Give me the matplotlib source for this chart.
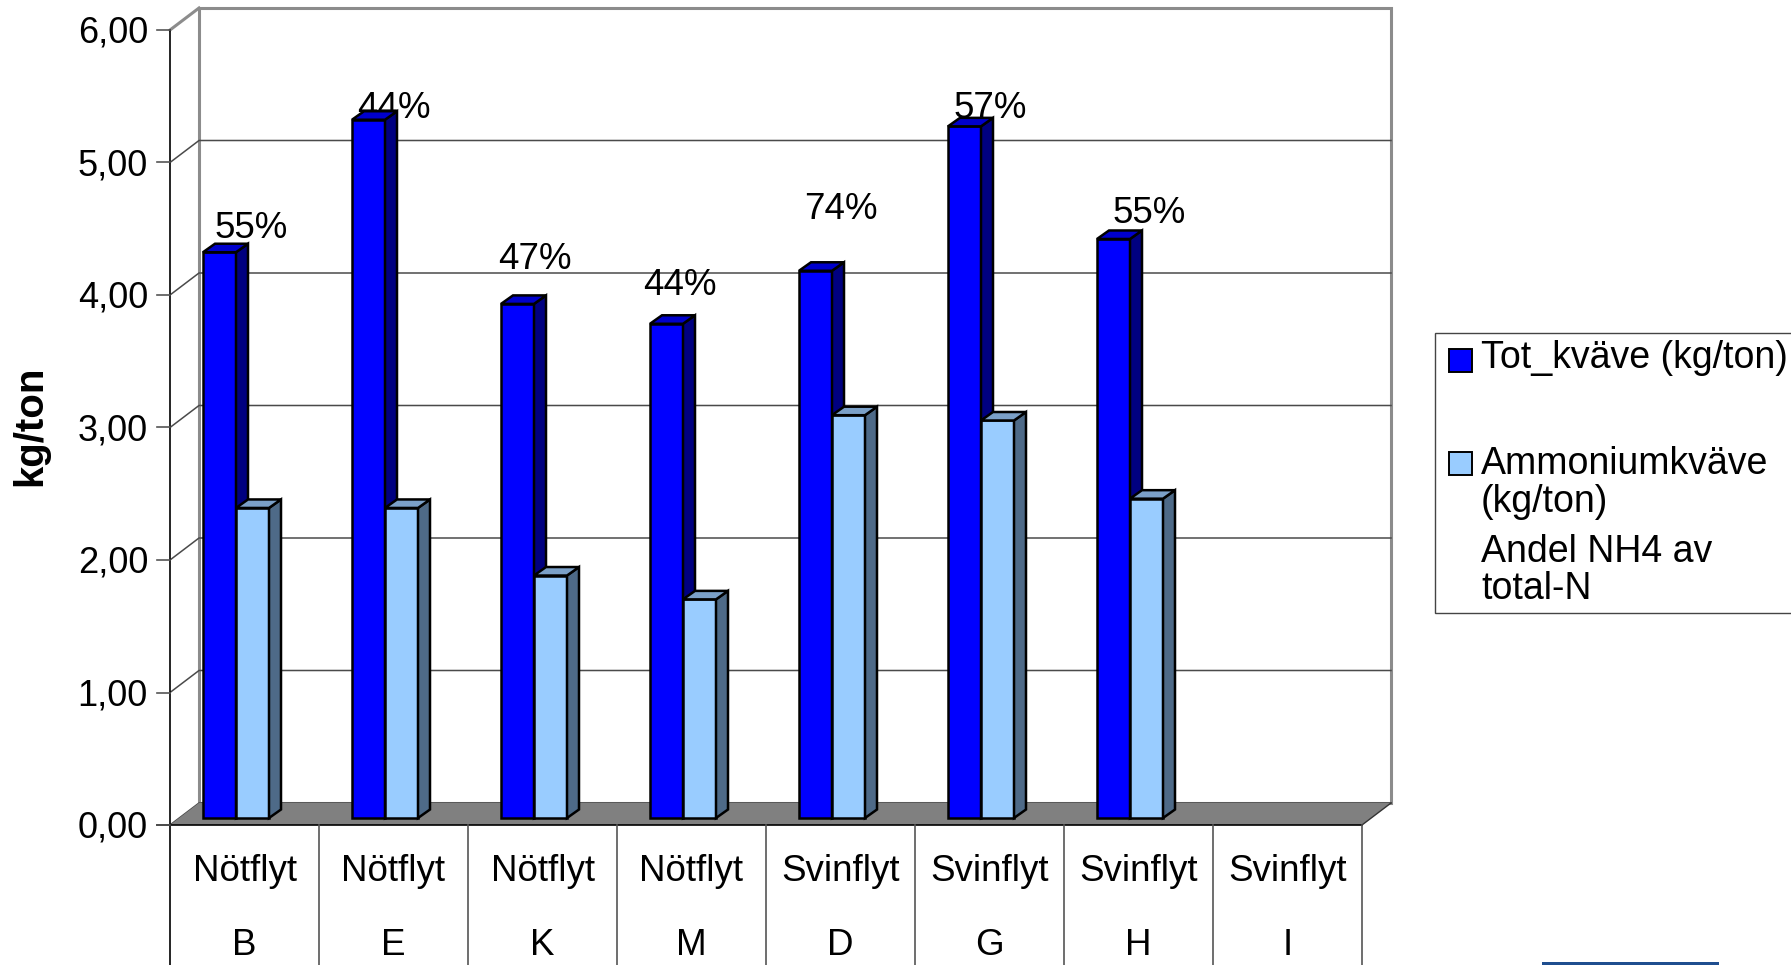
import numpy as np
import matplotlib
matplotlib.use("Agg")
import matplotlib.pyplot as plt
from matplotlib.patches import Polygon, Rectangle

plt.rcParams['font.family'] = ['Liberation Sans', 'DejaVu Sans']

# ---------------- data ----------------
cat_type = ["Nötflyt", "Nötflyt", "Nötflyt", "Nötflyt",
            "Svinflyt", "Svinflyt", "Svinflyt", "Svinflyt"]
cat_id = ["B", "E", "K", "M", "D", "G", "H", "I"]
tot_n = [4.27, 5.27, 3.88, 3.73, 4.13, 5.22, 4.37, np.nan]
nh4_n = [2.34, 2.34, 1.83, 1.65, 3.04, 3.00, 2.41, np.nan]
andel = ["55%", "44%", "47%", "44%", "74%", "57%", "55%", ""]
y_ticks = [0, 1, 2, 3, 4, 5, 6]
series_names = ["Tot_kväve (kg/ton)", "Ammoniumkväve\n(kg/ton)", "Andel NH4 av\ntotal-N"]

# ---------------- layout / style ----------------
W, H = 1791, 965
X0_PX, Y0_PX = 170, 825          # front origin in pixels
CAT_PX, UNIT_PX = 149.0, 132.5   # pixel size of one category / one unit
WALL_DX, WALL_DY = 29 / CAT_PX, 22 / UNIT_PX
BAR_DX, BAR_DY = 12 / CAT_PX, 8.5 / UNIT_PX
BAR_W = 33 / CAT_PX
BAR_OFF = 33 / CAT_PX
BAR_BASE = 7 / UNIT_PX
# label offsets relative to the top of the Tot bar (pixels: dx, dy of digit centre)
label_dx_px = [6.5, 0.5, -7.5, -11.5, 0.5, 0.5, 10.5, 0]
label_dy_px = [27, 15, 48, 42, 65, 21, 29, 0]

C_DARK = ("#0000FF", "#0000CC", "#000080")
C_LIGHT = ("#99CCFF", "#7BA0C8", "#4E6A88")
FS_TICK, FS_CAT, FS_LBL, FS_LEG = 26, 26.5, 26.5, 27

fig = plt.figure(figsize=(W / 100, H / 100), dpi=100)
ax = fig.add_axes([0, 0, 1, 1])
ax.axis('off')
ax.set_xlim(-X0_PX / CAT_PX, (W - X0_PX) / CAT_PX)
ax.set_ylim(-(H - Y0_PX) / UNIT_PX, Y0_PX / UNIT_PX)

n = len(cat_id)
ymax = y_ticks[-1]

# back wall
ax.add_patch(Rectangle((WALL_DX, WALL_DY), n, ymax, facecolor='white',
                       edgecolor='#8C8C8C', lw=2.2, zorder=1))
# left wall top edge
ax.plot([0, WALL_DX], [ymax, ymax + WALL_DY], color='#8C8C8C', lw=2.2, zorder=2)

# gridlines
for v in y_ticks[:-1]:
    ax.plot([0, WALL_DX, n + WALL_DX], [v, v + WALL_DY, v + WALL_DY],
            color='#4A4A4A', lw=1.1, zorder=2)

# floor
ax.add_patch(Polygon([(0, 0), (n, 0), (n + WALL_DX, WALL_DY), (WALL_DX, WALL_DY)],
                     closed=True, facecolor='#808080', edgecolor='none', zorder=3))
ax.plot([n, n + WALL_DX], [0, WALL_DY], color='#333333', lw=1.0, zorder=3)

# y axis line and ticks
ybot = -(H - Y0_PX) / UNIT_PX
ax.plot([0, 0], [ybot, ymax], color='black', lw=1.2, zorder=6)
ax.plot([-13 / CAT_PX, n], [0, 0], color='black', lw=1.2, zorder=6)
for v in y_ticks:
    ax.plot([-13 / CAT_PX, 0], [v, v], color='#555555', lw=1.2, zorder=6)
    ax.text(-22 / CAT_PX, v - 12.6 / UNIT_PX, f"{v:.2f}".replace('.', ','),
            ha='right', va='baseline', fontsize=FS_TICK, zorder=6)

# category separators and labels
for i in range(1, n + 1):
    ax.plot([i, i], [ybot, 0], color='#555555', lw=1.2, zorder=6)
for i in range(n):
    ax.text(i + 0.5, -56 / UNIT_PX, cat_type[i], ha='center', va='baseline',
            fontsize=FS_CAT, zorder=6)
    ax.text(i + 0.5, -130 / UNIT_PX, cat_id[i], ha='center', va='baseline',
            fontsize=FS_CAT, zorder=6)

# bars
x = np.arange(n)


def draw_bars(lefts, heights, colors, z):
    heights = np.asarray(heights, dtype=float)
    ok = ~np.isnan(heights)
    ax.bar(lefts[ok], heights[ok], width=BAR_W, bottom=BAR_BASE, align='edge',
           color=colors[0], edgecolor='black', lw=1.8, zorder=z)
    for xl, hv in zip(lefts[ok], heights[ok]):
        xr = xl + BAR_W
        top = BAR_BASE + hv
        ax.add_patch(Polygon([(xr, BAR_BASE), (xr + BAR_DX, BAR_BASE + BAR_DY),
                              (xr + BAR_DX, top + BAR_DY), (xr, top)], closed=True,
                             facecolor=colors[2], edgecolor='black', lw=1.8, zorder=z))
        ax.add_patch(Polygon([(xl, top), (xr, top), (xr + BAR_DX, top + BAR_DY),
                              (xl + BAR_DX, top + BAR_DY)], closed=True,
                             facecolor=colors[1], edgecolor='black', lw=1.8, zorder=z))


draw_bars(x + BAR_OFF, tot_n, C_DARK, 5)
draw_bars(x + BAR_OFF + BAR_W, nh4_n, C_LIGHT, 5.5)

# percentage labels
for i in range(n):
    if not andel[i]:
        continue
    top = BAR_BASE + tot_n[i]
    ax.text(i + 0.5 + label_dx_px[i] / CAT_PX,
            top + (label_dy_px[i] - 12.8) / UNIT_PX, andel[i],
            ha='center', va='baseline', fontsize=FS_LBL, zorder=4)

# y-axis title
fig.text(30 / W, 1 - 426 / H, "kg/ton", rotation=90, ha='center', va='center',
         fontsize=29, fontweight='bold')

# legend (drawn manually)
def fx(px):
    return px / W


def fy(py):
    return 1 - py / H


fig.patches.append(Rectangle((fx(1435), fy(613)), fx(1820) - fx(1435), fy(333) - fy(613),
                             transform=fig.transFigure, facecolor='white',
                             edgecolor='#444444', lw=1.0))
fig.patches.append(Rectangle((fx(1449), fy(372)), 23 / W, 23 / H, transform=fig.transFigure,
                             facecolor=C_DARK[0], edgecolor='black', lw=1.4))
fig.patches.append(Rectangle((fx(1449), fy(475)), 23 / W, 23 / H, transform=fig.transFigure,
                             facecolor=C_LIGHT[0], edgecolor='black', lw=1.4))
leg_lines = [(series_names[0], 368)]
l1 = series_names[1].split('\n')
l2 = series_names[2].split('\n')
leg_lines += [(l1[0], 474), (l1[1], 512), (l2[0], 562), (l2[1], 599)]
for txt, base in leg_lines:
    fig.text(fx(1481), fy(base), txt, ha='left', va='baseline', fontsize=FS_LEG)

# decorative strip at bottom right
fig.patches.append(Rectangle((fx(1542), 0), 177 / W, 3 / H, transform=fig.transFigure,
                             facecolor='#1F4E8F', edgecolor='none'))

fig.savefig("out.png", dpi=100)
